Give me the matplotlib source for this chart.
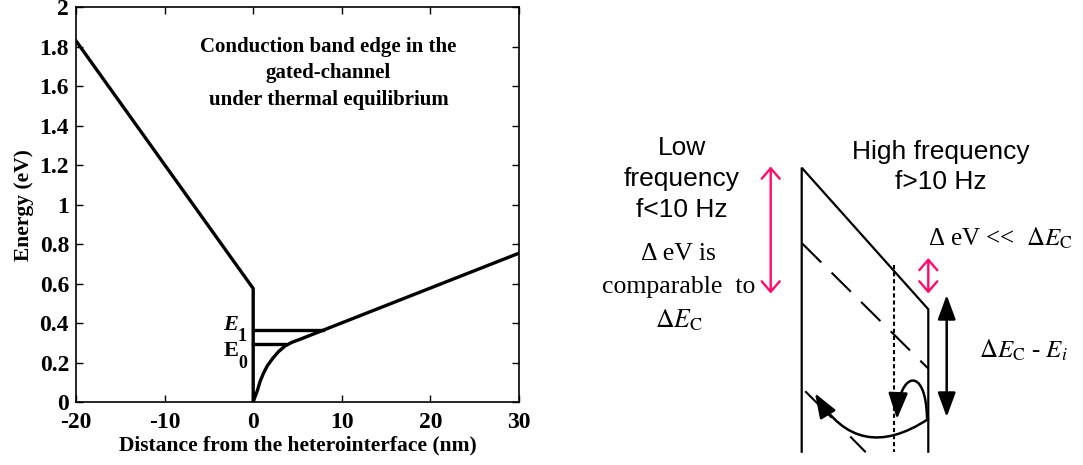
import matplotlib
matplotlib.use("Agg")
import matplotlib.pyplot as plt
from matplotlib.patches import FancyArrowPatch, ArrowStyle
from matplotlib.path import Path

plt.rcParams['mathtext.fontset'] = 'stix'

# conduction band edge (left panel)
x_cb = [-20, 0, 0, 0.15, 0.45, 0.77, 1.15, 1.6, 2.2, 2.85, 3.6, 4.4, 5.3, 30]
y_cb = [1.83, 0.575, 0, 0.02, 0.055, 0.103, 0.145, 0.184, 0.221, 0.255, 0.284, 0.303, 0.318, 0.754]
# sub-band levels: (energy, x where the level meets the band edge)
E0 = (0.292, 3.6)
E1 = (0.364, 7.9)
xticks = [-20, -10, 0, 10, 20, 30]
xtick_labels = ['-20', '-10', '0', '10', '20', '30']
yticks = [0, 0.2, 0.4, 0.6, 0.8, 1.0, 1.2, 1.4, 1.6, 1.8, 2.0]
ytick_labels = ['0', '0.2', '0.4', '0.6', '0.8', '1', '1.2', '1.4', '1.6', '1.8', '2']

# schematic on the right, in figure pixels (y down)
barrier_x = [801.7, 801.7, 928.3, 928.3]
barrier_y = [451.7, 167.7, 309.3, 451.7]
dash_x = [802, 928]
dash_y = [243.3, 368.3]
dash_low = [((806, 392), (831, 417)), ((851, 437.3), (865, 451.5))]
dotted_x = [894, 894]
dotted_y = [265, 452]
pink_big = ((770.7, 166.5), (770.7, 293.5))
pink_small = ((928.3, 258), (928.3, 293.5))
black_arrow = ((946.7, 295), (946.7, 417))

fig = plt.figure(figsize=(10.83, 4.65), dpi=100)

ax = fig.add_axes([76 / 1083, 63 / 465, 443 / 1083, 394.7 / 465])
serif = 'Liberation Serif'
ax.plot(x_cb, y_cb, color='black', lw=2.4, solid_joinstyle='miter')
ax.plot([0, E0[1]], [E0[0], E0[0]], color='black', lw=2.4)
ax.plot([0, E1[1]], [E1[0], E1[0]], color='black', lw=2.4)
ax.set_xlim(-20, 30)
ax.set_ylim(0, 2)
ax.set_xticks(xticks)
ax.set_xticklabels(xtick_labels, family=serif, fontsize=17, fontweight='bold')
ax.set_yticks(yticks)
ax.set_yticklabels(ytick_labels, family=serif, fontsize=17, fontweight='bold')
ax.tick_params(direction='in', top=True, right=True, length=5, width=1, pad=5)
ax.tick_params(axis='x', pad=7)
for s in ax.spines.values():
    s.set_linewidth(1.2)
ax.set_xlabel('Distance from the heterointerface (nm)', family=serif,
              fontsize=15.5, fontweight='bold', labelpad=2)
ax.set_ylabel('Energy (eV)', family=serif, fontsize=15.5, fontweight='bold', labelpad=4)
ax.text(8.5, 1.665, 'Conduction band edge in the\ngated-channel\nunder thermal equilibrium',
        family=serif, fontsize=15, fontweight='bold', ha='center', va='center',
        linespacing=1.45)
ax.text(-2.6, 0.388, 'E', family=serif, fontsize=16, fontweight='bold', style='italic',
        ha='center', va='center')
ax.text(-1.25, 0.33, '1', family=serif, fontsize=13, fontweight='bold', ha='center', va='center')
ax.text(-2.5, 0.256, 'E', family=serif, fontsize=16, fontweight='bold', ha='center', va='center')
ax.text(-1.2, 0.196, '0', family=serif, fontsize=13, fontweight='bold', ha='center', va='center')

# overlay in pixel coordinates for the schematic
ov = fig.add_axes([0, 0, 1, 1])
ov.set_xlim(0, 1083)
ov.set_ylim(465, 0)
ov.axis('off')

ov.plot(barrier_x, barrier_y, color='black', lw=1.6, solid_joinstyle='miter')
ov.plot(dash_x, dash_y, color='black', lw=1.5, dashes=(13, 7))
for (p, q) in dash_low:
    ov.plot([p[0], q[0]], [p[1], q[1]], color='black', lw=1.5)
ov.plot(dotted_x, dotted_y, color='black', lw=1.5, dashes=(2, 1.4))

pink = '#ff0a6c'
for a, b in (pink_big, pink_small):
    ov.add_patch(FancyArrowPatch(a, b, arrowstyle=ArrowStyle('<->', head_length=7.5, head_width=6.5),
                                 color=pink, lw=1.7, shrinkA=0, shrinkB=0))
ov.add_patch(FancyArrowPatch(black_arrow[0], black_arrow[1],
                             arrowstyle=ArrowStyle('<|-|>', head_length=15, head_width=5.5),
                             color='black', lw=1.8, shrinkA=0, shrinkB=0))

# curved arrows
ov.add_patch(FancyArrowPatch((928.3, 419), (815, 393.3), connectionstyle='arc3,rad=-0.52',
                             arrowstyle=ArrowStyle('-|>', head_length=15, head_width=5.5),
                             color='black', lw=1.8, shrinkA=0, shrinkB=0))
loop = Path([(927, 418), (926, 365), (899, 372), (897, 419)],
            [Path.MOVETO, Path.CURVE4, Path.CURVE4, Path.CURVE4])
ov.add_patch(FancyArrowPatch(path=loop, arrowstyle=ArrowStyle('-|>', head_length=16, head_width=6),
                             color='black', lw=1.8, transform=ov.transData))

sans = 'Liberation Sans'
ov.text(681.7, 179, 'Low\nfrequency\nf<10 Hz', family=sans, fontsize=19, ha='center',
        va='center', linespacing=1.38)
ov.text(940.8, 167, 'High frequency\nf>10 Hz', family=sans, fontsize=19, ha='center',
        va='center', linespacing=1.3)
ov.text(678.5, 254, 'Δ eV is', family=serif, fontsize=18.5, ha='center', va='center')
ov.text(678.5, 287, 'comparable  to', family=serif, fontsize=18.5, ha='center', va='center')
ov.text(678.5, 320, r'$\Delta E_\mathrm{C}$', family=serif, fontsize=18.5, ha='center', va='center')
ov.text(1000.5, 238, r'Δ eV <<  $\Delta E_\mathrm{C}$', family=serif, fontsize=18,
        ha='center', va='center')
ov.text(1023, 350, r'$\Delta E_\mathrm{C}$ - $E_i$', family=serif, fontsize=18,
        ha='center', va='center')

fig.savefig('out.png', dpi=100)
